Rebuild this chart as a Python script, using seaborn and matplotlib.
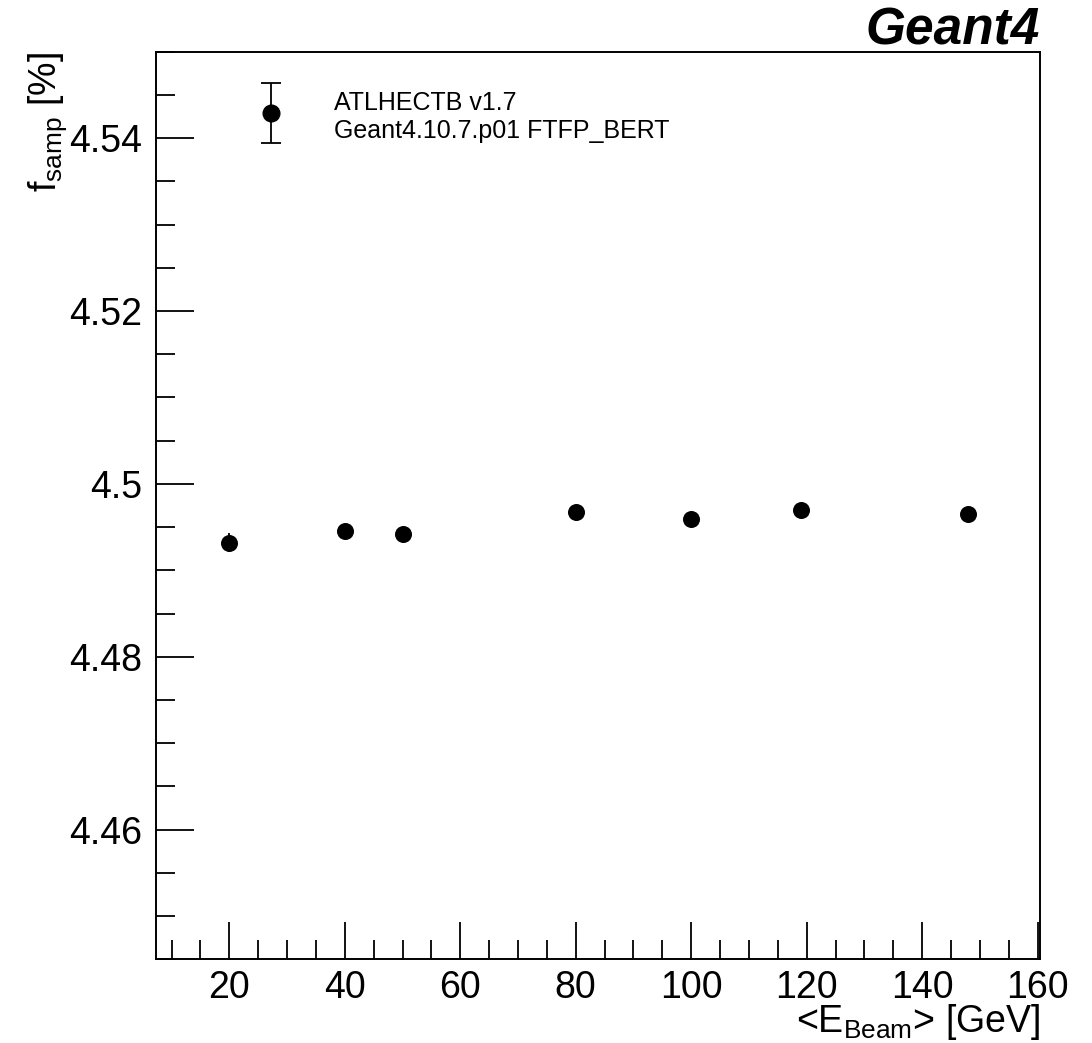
import numpy as np
import pandas as pd
import matplotlib
matplotlib.use("Agg")
import matplotlib.pyplot as plt
import seaborn as sns
from matplotlib.ticker import MultipleLocator
from matplotlib.legend_handler import HandlerErrorbar
from matplotlib.container import ErrorbarContainer
from matplotlib.lines import Line2D
from matplotlib.collections import LineCollection

# ---- data ----
beam_energy = [20, 40, 50, 80, 100, 119, 148]
fsamp = [4.49317, 4.49456, 4.49418, 4.49679, 4.49592, 4.49699, 4.49653]
fsamp_err = [0.0011, 0.0004, 0.0004, 0.0004, 0.0004, 0.0004, 0.0004]
legend_lines = ["ATLHECTB v1.7", "Geant4.10.7.p01 FTFP_BERT"]
title_text = "Geant4"
x_label = r"<E$_{\mathrm{Beam}}$> [GeV]"
y_label = r"f$_{\mathrm{samp}}$ [%]"

df = pd.DataFrame({"E": beam_energy, "f": fsamp, "err": fsamp_err})

sns.set_theme(style="ticks")
plt.rcParams["font.family"] = ["Liberation Sans", "DejaVu Sans"]
plt.rcParams["mathtext.fontset"] = "custom"
plt.rcParams["mathtext.rm"] = "Liberation Sans"
plt.rcParams["mathtext.it"] = "Liberation Sans:italic"
plt.rcParams["mathtext.bf"] = "Liberation Sans:bold"
for k in ["text.color", "axes.labelcolor", "xtick.color", "ytick.color", "axes.edgecolor"]:
    plt.rcParams[k] = "black"

fig = plt.figure(figsize=(10.92, 10.43), dpi=100)
ax = fig.add_axes([0.1429, 0.0803, 0.8099, 0.8701])

# error bars
ax.errorbar(df["E"], df["f"], yerr=df["err"], fmt="none", ecolor="black",
            elinewidth=1.3, capsize=0, zorder=2)
sns.scatterplot(data=df, x="E", y="f", ax=ax, color="black", s=150,
                edgecolor="black", linewidth=0, zorder=3, legend=False)

ax.set_xlim(7.3, 160.5)
ax.set_ylim(4.445, 4.55)

ax.xaxis.set_major_locator(MultipleLocator(20))
ax.xaxis.set_minor_locator(MultipleLocator(5))
ax.yaxis.set_minor_locator(MultipleLocator(0.005))
ax.set_yticks([4.46, 4.48, 4.50, 4.52, 4.54])
ax.set_yticklabels(["4.46", "4.48", "4.5", "4.52", "4.54"])

ax.tick_params(axis="both", which="major", direction="in", length=27, width=1.3,
               labelsize=27, top=False, right=False, color="black", labelcolor="black")
ax.tick_params(axis="both", which="minor", direction="in", length=14, width=1.3,
               top=False, right=False, color="black")
ax.tick_params(axis="x", which="major", pad=8)
ax.tick_params(axis="y", which="major", pad=10)

for sp in ax.spines.values():
    sp.set_visible(True)
    sp.set_linewidth(1.4)
    sp.set_color("black")

ax.set_xlabel(x_label, fontsize=27, loc="right", labelpad=-3, color="black")
ax.set_ylabel(y_label, fontsize=27, loc="top", labelpad=0, color="black")

# legend (errorbar-style key)
mline = Line2D([], [], marker="o", color="black", ms=12, linestyle="none")
cap1 = Line2D([], [], marker="_", color="black", ms=14, mew=1.3, linestyle="none")
cap2 = Line2D([], [], marker="_", color="black", ms=14, mew=1.3, linestyle="none")
bar = LineCollection([], colors="black", linewidths=1.3)
leg_handle = ErrorbarContainer((mline, (cap1, cap2), (bar,)), has_xerr=False, has_yerr=True)
leg = ax.legend([leg_handle], ["\n".join(legend_lines)], loc="upper left",
                bbox_to_anchor=(0.088, 0.9815), frameon=False, fontsize=18,
                handlelength=1.2, handletextpad=1.9, handleheight=2.0,
                handler_map={ErrorbarContainer: HandlerErrorbar(yerr_size=1.2)})
for t in leg.get_texts():
    t.set_color("black")

fig.text(0.952, 0.970, title_text, fontsize=37, fontweight="bold",
         fontstyle="italic", ha="right", va="center", color="black")

fig.savefig("out.png", dpi=100)
